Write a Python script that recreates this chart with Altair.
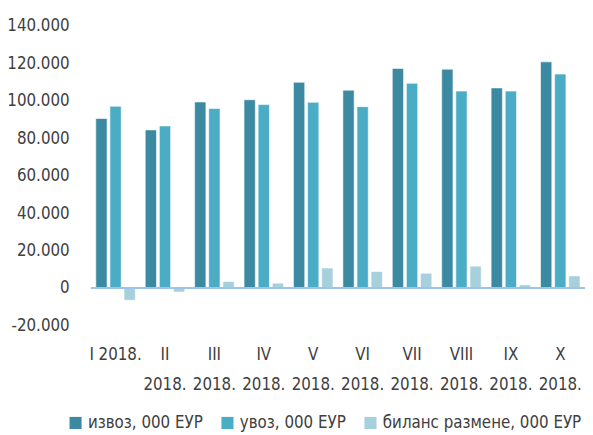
import altair as alt
import pandas as pd

months = ["I 2018.", "II 2018.", "III 2018.", "IV 2018.", "V 2018.",
          "VI 2018.", "VII 2018.", "VIII 2018.", "IX 2018.", "X 2018."]
series = ["извоз, 000 ЕУР", "увоз, 000 ЕУР", "биланс размене, 000 ЕУР"]
izvoz = [90500, 84400, 99300, 100500, 109800, 105600, 117200, 116800, 106800, 120700]
uvoz = [97000, 86500, 95800, 97900, 99100, 96800, 109300, 105100, 105100, 114200]
bilans = [-6500, -2100, 3500, 2600, 10700, 8800, 7900, 11700, 1700, 6500]
y_ticks = [-20000, 0, 20000, 40000, 60000, 80000, 100000, 120000, 140000]
colors = ["#3C8AA2", "#4BACC6", "#A7D0DD"]

rows = []
for i, m in enumerate(months):
    for s, vals in zip(series, [izvoz, uvoz, bilans]):
        rows.append({"month": m, "series": s, "value": vals[i]})
df = pd.DataFrame(rows)

FONT = "'DejaVu Sans Condensed', 'Open Sans', sans-serif"

y_axis = alt.Axis(values=y_ticks, domain=False, ticks=False, grid=False,
                  labelFont=FONT, labelFontSize=17, labelColor="#404040",
                  labelPadding=22, labelOverlap=False,
                  labelExpr="replace(replace(format(datum.value, ','), ',', '.'), '\u2212', '-')")
y_scale = alt.Scale(domain=[-20000, 140000], nice=False)

bars = alt.Chart(df).mark_bar(stroke="white", strokeWidth=0.6).encode(
    x=alt.X("month:N", sort=months, title=None,
            scale=alt.Scale(paddingInner=0.2, paddingOuter=0.1),
            axis=alt.Axis(domain=False, ticks=False, labelAngle=0,
                          labelFont=FONT, labelFontSize=17, labelColor="#404040",
                          labelPadding=21, labelLineHeight=31, labelBaseline="top",
                          labelOverlap=False,
                          labelExpr="datum.label == 'I 2018.' ? datum.label : split(datum.label, ' ')")),
    xOffset=alt.XOffset("series:N", sort=series,
                        scale=alt.Scale(paddingInner=0.2, paddingOuter=0)),
    y=alt.Y("value:Q", title=None, scale=y_scale, axis=y_axis),
    color=alt.Color("series:N", sort=series,
                    scale=alt.Scale(domain=series, range=colors),
                    legend=alt.Legend(title=None, orient="none", direction="horizontal",
                                      columns=3, legendX=-24, legendY=394,
                                      symbolType="square", symbolSize=150,
                                      symbolStrokeWidth=0, labelFont=FONT,
                                      labelFontSize=17, labelColor="#404040",
                                      labelLimit=400,
                                      columnPadding=16, symbolOffset=0)),
)

zero = alt.Chart(pd.DataFrame({"value": [0]})).mark_rule(color="#9DC3E6", strokeWidth=2).encode(
    y=alt.Y("value:Q", title=None, scale=y_scale, axis=y_axis)
)

chart = alt.layer(bars, zero).properties(
    width=501, height=304,
    autosize=alt.AutoSizeParams(type="none"),
    padding={"left": 84, "top": 15, "right": 0, "bottom": 105},
).configure_view(stroke=None).configure_axis(labelOverlap=False)

chart.save("out.html", embed_options={"renderer": "svg", "actions": False})
